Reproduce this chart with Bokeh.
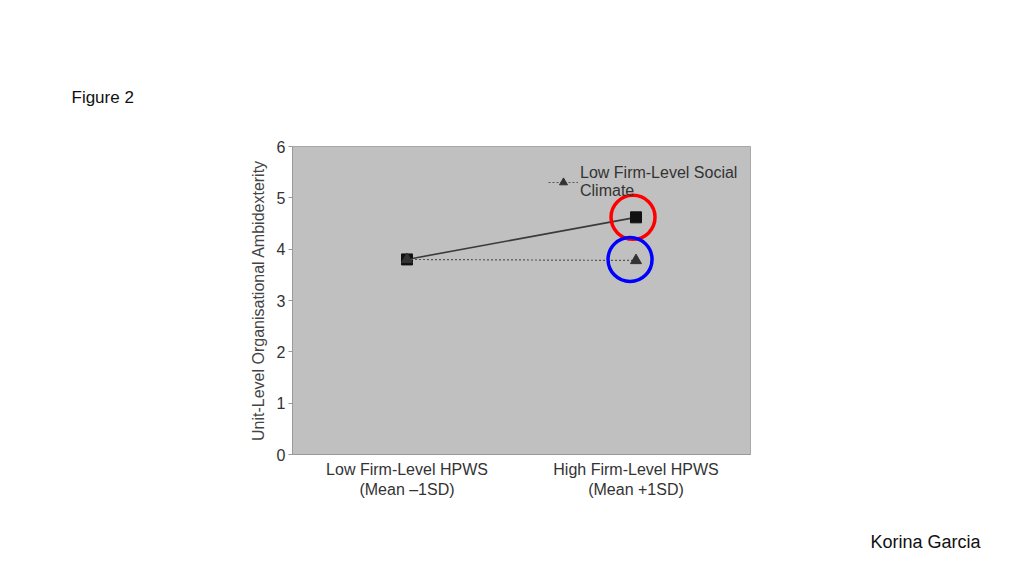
from bokeh.plotting import figure
from bokeh.layouts import column
from bokeh.models import FactorRange, Range1d, Legend, LegendItem, FixedTicker, Title
from bokeh.embed import file_html
from bokeh.resources import INLINE

categories = ["Low Firm-Level HPWS\n(Mean \u20131SD)", "High Firm-Level HPWS\n(Mean +1SD)"]
high_climate = [3.8, 4.62]   # solid line, squares
low_climate = [3.8, 3.78]    # dotted line, triangles
legend_label = "Low Firm-Level Social\nClimate"
y_ticks = [0, 1, 2, 3, 4, 5, 6]
# highlight circles around the high-HPWS points
circle_cat = [categories[1], categories[1]]
circle_offsets = [-0.013, -0.026]
circle_y = [4.62, 3.8]
circle_colors = ["#ff0000", "#0000ff"]

FONT = "Liberation Sans"

p = figure(width=1008, height=506, output_backend="svg", toolbar_location=None,
           x_range=FactorRange(*categories, range_padding=0),
           y_range=Range1d(0, 6))
p.min_border_left = 292
p.min_border_right = 258
p.min_border_top = 146
p.min_border_bottom = 52
p.background_fill_color = "#c0c0c0"
p.border_fill_color = "white"
p.outline_line_color = "#a8a8a8"
p.grid.visible = False

r1 = p.line(categories, high_climate, line_color="#3a3a3a", line_width=1.6)
p.scatter(categories, high_climate, marker="square", size=11, fill_color="#111111",
          line_color="#111111")
r2 = p.line(categories, low_climate, line_color="#555555", line_width=1.2, line_dash="2 2")
r3 = p.scatter(categories, low_climate, marker="triangle", size=11, fill_color="#333333",
               line_color="#333333")

cx = [(c, o) for c, o in zip(circle_cat, circle_offsets)]
p.scatter(cx, circle_y, marker="circle", size=44, fill_alpha=0, line_color=circle_colors,
          line_width=3.5)

legend = Legend(items=[LegendItem(label=legend_label, renderers=[r2, r3])],
                location=(256, 254), background_fill_alpha=0, border_line_alpha=0,
                label_text_font=FONT, label_text_font_size="16px", label_text_color="#333333",
                glyph_width=30, label_standoff=2, padding=0, margin=0, spacing=0)
p.add_layout(legend)

# axes
p.yaxis.ticker = FixedTicker(ticks=y_ticks)
p.yaxis.minor_tick_line_color = None
p.yaxis.major_tick_out = 4
p.yaxis.major_tick_in = 0
p.yaxis.axis_line_color = "#999999"
p.yaxis.major_tick_line_color = "#999999"
p.yaxis.major_label_standoff = 3
p.yaxis.major_label_text_font = FONT
p.yaxis.major_label_text_font_size = "16px"
p.yaxis.major_label_text_color = "#333333"
p.yaxis.axis_label = "Unit-Level Organisational Ambidexterity"
p.yaxis.axis_label_text_font = FONT
p.yaxis.axis_label_text_font_size = "16px"
p.yaxis.axis_label_text_font_style = "normal"
p.yaxis.axis_label_text_color = "#444444"
p.yaxis.axis_label_standoff = 7

p.xaxis.axis_line_color = "#999999"
p.xaxis.major_tick_line_color = None
p.xaxis.major_label_text_font = FONT
p.xaxis.major_label_text_font_size = "16px"
p.xaxis.major_label_text_color = "#333333"
p.xaxis.major_label_standoff = 0

p.add_layout(Title(text="Figure 2", align="left", offset=-221, standoff=80,
                   text_font=FONT, text_font_size="17px", text_color="#111111",
                   text_font_style="normal"), "above")

# footer strip carrying the author name (its frame is aligned with the chart's frame)
footer = figure(width=1008, height=54, output_backend="svg", toolbar_location=None,
                x_range=Range1d(0, 1), y_range=Range1d(0, 1),
                x_axis_location=None, y_axis_location=None,
                min_border=0, outline_line_color=None)
footer.grid.visible = False
footer.add_layout(Title(text="Korina Garcia", align="right", offset=-230, standoff=18,
                        text_font=FONT, text_font_size="18px", text_color="#111111",
                        text_font_style="normal"), "below")

layout = column(p, footer, spacing=0)
open("out.html", "w").write(file_html(layout, INLINE))
